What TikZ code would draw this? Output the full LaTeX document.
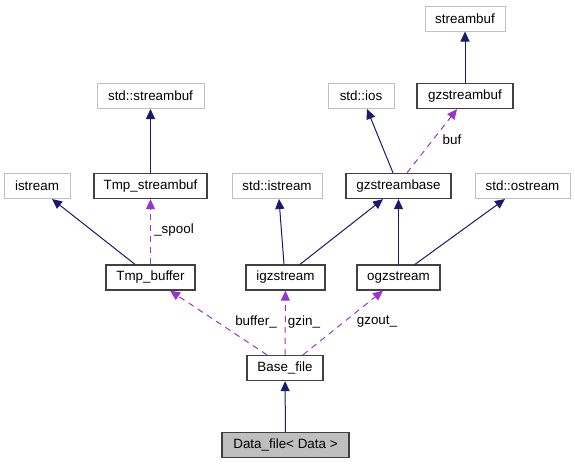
\documentclass[tikz,border=0pt]{standalone}
\usepackage{fontspec}
\setmainfont{Liberation Sans}
\usetikzlibrary{arrows.meta}
\definecolor{EdgeBlue}{RGB}{25,25,112}
\definecolor{EdgePurple}{RGB}{154,50,205}
\definecolor{BoxGray}{RGB}{191,191,191}
\definecolor{BoxLine}{RGB}{64,64,64}

\begin{document}
\begin{tikzpicture}[
    x=1pt, y=-1pt,
    cls/.style={rectangle, draw=BoxLine, line width=1.3pt, fill=white,
        minimum height=25pt, inner sep=0pt, font=\fontsize{13.4}{15}\selectfont},
    extcls/.style={cls, draw=BoxGray, line width=1pt},
    cur/.style={cls, fill=BoxGray},
    inh/.style={draw=EdgeBlue, line width=1pt,
        -{Triangle[length=10pt, width=9pt]}},
    use/.style={draw=EdgePurple, line width=1pt, dash pattern=on 6pt off 5pt,
        -{Triangle[length=10pt, width=9pt]}},
    elabel/.style={font=\fontsize{13.4}{15}\selectfont, inner sep=0pt}
]
\useasboundingbox (0,0) rectangle (575,464);
\node[extcls, minimum width=80pt] (streambuf) at (465, 18.5) {streambuf};
\node[extcls, minimum width=107pt] (stdstreambuf) at (150.5, 96) {std::streambuf};
\node[extcls, minimum width=66pt] (stdios) at (361, 96) {std::ios};
\node[cls, minimum width=96pt] (gzstreambuf) at (465, 96) {gzstreambuf};
\node[extcls, minimum width=66pt] (istream) at (37, 186) {istream};
\node[cls, minimum width=113pt] (Tmpstreambuf) at (150.5, 186) {Tmp\_streambuf};
\node[extcls, minimum width=90pt] (stdistream) at (277, 186) {std::istream};
\node[cls, minimum width=105pt] (gzstreambase) at (398.5, 186) {gzstreambase};
\node[extcls, minimum width=95pt] (stdostream) at (522.5, 186) {std::ostream};
\node[cls, minimum width=89pt] (Tmpbuffer) at (150.5, 277.5) {Tmp\_buffer};
\node[cls, minimum width=79pt] (igzstream) at (285.5, 277.5) {igzstream};
\node[cls, minimum width=83pt] (ogzstream) at (398.5, 277.5) {ogzstream};
\node[cls, minimum width=76pt] (Basefile) at (285, 368) {Base\_file};
\node[cur, minimum width=127pt] (Datafile) at (285.5, 445) {Data\_file< Data >};
% inheritance
\draw[inh] (gzstreambuf) -- (streambuf);
\draw[inh] (Tmpstreambuf) -- (stdstreambuf);
\draw[inh] ([xshift=-5.5pt]gzstreambase.north) -- ([xshift=6pt]stdios.south);
\draw[inh] ([xshift=-15.5pt]Tmpbuffer.north) -- ([xshift=15pt]istream.south);
\draw[inh] ([xshift=-1.5pt]igzstream.north) -- ([xshift=2pt]stdistream.south);
\draw[inh] ([xshift=14.5pt]igzstream.north) -- ([xshift=-15.5pt]gzstreambase.south);
\draw[inh] (ogzstream) -- (gzstreambase);
\draw[inh] ([xshift=16.5pt]ogzstream.north) -- ([xshift=-17.5pt]stdostream.south);
\draw[inh] (Datafile) -- (Basefile);
% members
\draw[use] ([xshift=8.5pt]gzstreambase.north) -- ([xshift=-8pt]gzstreambuf.south);
\draw[use] (Tmpbuffer) -- (Tmpstreambuf);
\draw[use] ([xshift=-18pt]Basefile.north) -- ([xshift=19.5pt]Tmpbuffer.south);
\draw[use] (Basefile) -- (igzstream);
\draw[use] ([xshift=18pt]Basefile.north) -- ([xshift=-15.5pt]ogzstream.south);
\node[elabel] (lbuf) at (452, 140) {buf};
\node[elabel] (lspool) at (174, 230) {\_spool};
\node[elabel] (lbuffer) at (256, 322) {buffer\_};
\node[elabel] (lgzin) at (304, 322) {gzin\_};
\node[elabel] (lgzout) at (377, 322) {gzout\_};
\end{tikzpicture}
\end{document}
